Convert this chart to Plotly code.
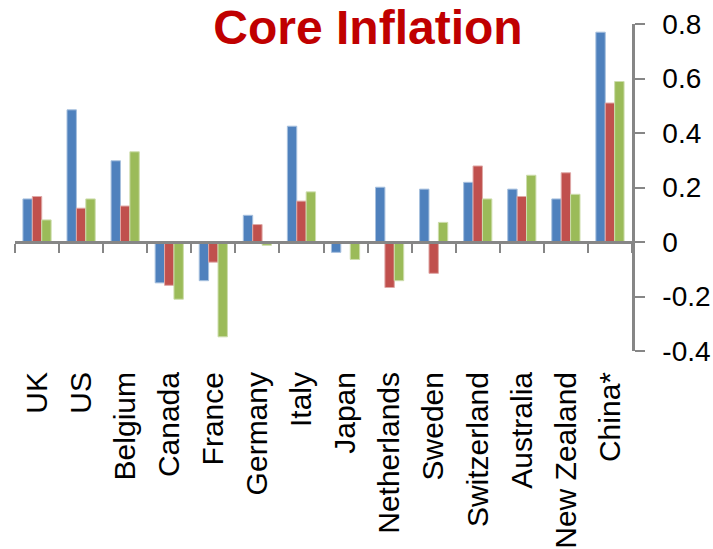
import plotly.graph_objects as go

# Core inflation by country, three series per country
countries = ["UK", "US", "Belgium", "Canada", "France", "Germany", "Italy",
             "Japan", "Netherlands", "Sweden", "Switzerland", "Australia",
             "New Zealand", "China*"]

series_a = [0.158, 0.485, 0.298, -0.150, -0.142, 0.098, 0.425,
            -0.038, 0.201, 0.194, 0.219, 0.194, 0.158, 0.770]
series_b = [0.167, 0.124, 0.132, -0.159, -0.074, 0.064, 0.150,
            0.0, -0.167, -0.115, 0.279, 0.167, 0.254, 0.510]
series_c = [0.081, 0.158, 0.331, -0.210, -0.348, -0.012, 0.184,
            -0.064, -0.142, 0.072, 0.158, 0.245, 0.175, 0.589]

y_tick_values = [-0.4, -0.2, 0.0, 0.2, 0.4, 0.6, 0.8]
y_tick_labels = ["-0.4", "-0.2", "0", "0.2", "0.4", "0.6", "0.8"]

title_text = "Core Inflation"

FONT = "Liberation Sans, Arial, sans-serif"
AXIS_GREY = "#868686"

fills = ["#4F81BD", "#C0504D", "#9BBB59"]
edges = ["#A7C0DE", "#DFA8A6", "#CDDDAC"]

fig = go.Figure()
for vals, fill, edge in zip([series_a, series_b, series_c], fills, edges):
    fig.add_trace(go.Bar(
        x=countries, y=vals,
        marker=dict(color=fill, line=dict(color=edge, width=1)),
        showlegend=False,
    ))

# empty trace so the zero-line category axis gets drawn
fig.add_trace(go.Scatter(x=[], y=[], xaxis="x2", mode="markers",
                         showlegend=False, hoverinfo="skip"))

# fraction of the plot height where the value axis crosses zero
y_min, y_max = y_tick_values[0], y_tick_values[-1]
zero_pos = (0 - y_min) / (y_max - y_min)

# category boundaries for the tick marks on the zero line
boundaries = [i - 0.5 for i in range(len(countries) + 1)]

fig.update_layout(
    width=713, height=549,
    margin=dict(l=15, r=81, t=24, b=198, autoexpand=False),
    paper_bgcolor="white", plot_bgcolor="white",
    barmode="group", bargap=0.36, bargroupgap=0,
    font=dict(family=FONT, color="black"),
    title=dict(
        text=title_text,
        font=dict(family=FONT, size=48, color="#C00000", weight="bold"),
        x=368 / 713, xanchor="center", xref="container",
        y=1 - 27 / 549, yanchor="middle", yref="container",
        automargin=False,
    ),
    xaxis=dict(
        type="category", categoryarray=countries,
        range=[-0.5, len(countries) - 0.5],
        showline=False, showgrid=False, zeroline=False, ticks="",
        tickangle=-90, tickfont=dict(size=30, family=FONT, color="black"),
        ticklabelstandoff=14, automargin=False,
    ),
    xaxis2=dict(
        overlaying="x", anchor="free", position=zero_pos, side="bottom",
        type="linear", range=[-0.5, len(countries) - 0.5],
        tickmode="array", tickvals=boundaries, showticklabels=False,
        ticks="outside", ticklen=9, tickwidth=2, tickcolor=AXIS_GREY,
        showline=True, linecolor=AXIS_GREY, linewidth=2.5,
        showgrid=False, zeroline=False, layer="above traces",
        automargin=False,
    ),
    yaxis=dict(
        side="right", range=[y_min, y_max],
        tickmode="array", tickvals=y_tick_values, ticktext=y_tick_labels,
        showline=True, linecolor=AXIS_GREY, linewidth=2.5,
        ticks="outside", ticklen=10, tickwidth=2, tickcolor=AXIS_GREY,
        showgrid=False, zeroline=False,
        tickfont=dict(size=28, family=FONT, color="black"),
        ticklabelstandoff=12, automargin=False,
    ),
)

fig.write_html("out.html")
